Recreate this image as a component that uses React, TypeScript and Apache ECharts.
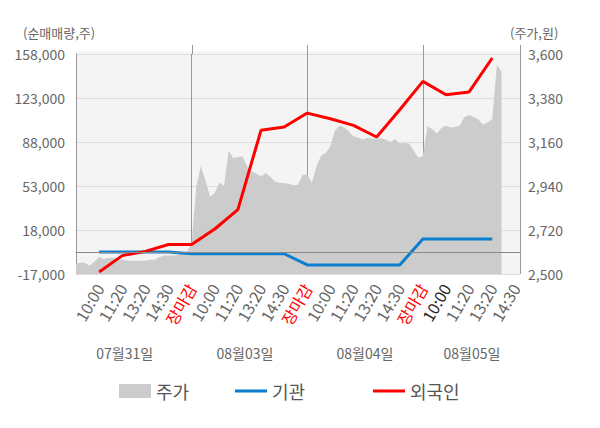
import React, { useEffect, useRef } from 'react';
import * as echarts from 'echarts';

const FONT = '"Noto Sans CJK KR", "Noto Sans", sans-serif';

const DATES = ['07월31일', '08월03일', '08월04일', '08월05일'];
const TIME_LABELS = ['10:00', '11:20', '13:20', '14:30', '장마감'];
const SUBS_PER_DAY = 25;
const SUBS_PER_SLOT = 5;
const LAST_INDEX = 96;

const LEFT_MIN = -17000;
const LEFT_MAX = 158000;
const LEFT_STEP = 35000;
const RIGHT_MIN = 2500;
const RIGHT_MAX = 3600;
const RIGHT_STEP = 220;

// 주가 (price), one value per sub-slot
const PRICE = [
  2551, 2558, 2555, 2541, 2563, 2585, 2575, 2580, 2580, 2578,
  2571, 2568, 2566, 2566, 2566, 2566, 2571, 2571, 2585, 2591,
  2593, 2593, 2595, 2608, 2613, 2650, 2935, 3040, 2968, 2888,
  2905, 2958, 2941, 3116, 3080, 3085, 3088, 3038, 3013, 3001,
  2988, 3005, 2988, 2963, 2955, 2955, 2951, 2944, 2946, 2996,
  2996, 2958, 3038, 3092, 3105, 3140, 3218, 3242, 3233, 3213,
  3188, 3183, 3173, 3180, 3177, 3177, 3178, 3172, 3160, 3175,
  3153, 3155, 3152, 3117, 3082, 3090, 3240, 3225, 3202, 3230,
  3242, 3233, 3235, 3242, 3285, 3295, 3285, 3272, 3247, 3258,
  3275, 3545, 3513,
];

// 기관 (institution) per labelled slot
const INSTITUTION = [
  500, 500, 500, 500, -900,
  -900, -900, -900, -900, -9800,
  -9800, -9800, -9800, -9800, 10800,
  10800, 10800, 10800,
];

// 외국인 (foreigners) per labelled slot
const FOREIGN = [
  -15400, -2400, 1000, 6500, 6500,
  18800, 34200, 97300, 99900, 111000,
  106500, 101200, 92000, 113700, 136200,
  125600, 127800, 154800,
];

function timeLabelAt(i: number): string {
  if (i <= 0 || i % SUBS_PER_SLOT !== 0) return '';
  const sub = i % SUBS_PER_DAY;
  return sub === 0 ? TIME_LABELS[4] : TIME_LABELS[sub / SUBS_PER_SLOT - 1];
}

const CATEGORIES: string[] = [];
for (let i = 0; i <= LAST_INDEX; i++) {
  const sub = i % SUBS_PER_DAY;
  let day = Math.floor(i / SUBS_PER_DAY);
  if (sub === 0 && i > 0) day -= 1;
  const t = timeLabelAt(i);
  CATEGORIES.push(`${DATES[day]} ${t || '#' + sub}`);
}

function slotSeries(values: number[]): (number | null)[] {
  return CATEGORIES.map((_, i) =>
    i > 0 && i % SUBS_PER_SLOT === 0 && values[i / SUBS_PER_SLOT - 1] != null
      ? values[i / SUBS_PER_SLOT - 1]
      : null
  );
}

const priceData = CATEGORIES.map((_, i) => (i < PRICE.length ? PRICE[i] : null));

const fmt = (v: number) => v.toLocaleString('en-US');

const isDayEdge = (i: number) => i % SUBS_PER_DAY === 0 || i === LAST_INDEX;

const legendBase = {
  top: 377,
  itemWidth: 32,
  itemGap: 10,
  selectedMode: false,
  textStyle: { fontSize: 18, color: '#555', fontFamily: FONT },
};

export default function App() {
  const ref = useRef<HTMLDivElement>(null);

  useEffect(() => {
    const chart = echarts.init(ref.current!, undefined, { renderer: 'svg' });
    const option: any = {
      animation: false,
      backgroundColor: '#ffffff',
      textStyle: { fontFamily: FONT },
      grid: {
        left: 76,
        right: 80,
        top: 54,
        bottom: 154,
        show: true,
        backgroundColor: '#f4f4f4',
        borderWidth: 0,
      },
      legend: [
        { ...legendBase, data: [{ name: '주가', icon: 'rect' }], left: 114, itemHeight: 14 },
        { ...legendBase, data: [{ name: '기관', icon: 'rect' }], left: 230, itemHeight: 3 },
        { ...legendBase, data: [{ name: '외국인', icon: 'rect' }], left: 368, itemHeight: 3 },
      ],
      xAxis: {
        type: 'category',
        data: CATEGORIES,
        boundaryGap: false,
        axisLine: { lineStyle: { color: '#999', width: 1 } },
        axisTick: {
          show: true,
          length: 4,
          interval: (i: number) => isDayEdge(i),
          lineStyle: { color: '#999' },
        },
        splitLine: {
          show: true,
          interval: (i: number) => i > 0 && isDayEdge(i),
          lineStyle: { color: '#999', width: 1 },
        },
        axisLabel: {
          interval: (i: number) => timeLabelAt(i) !== '',
          formatter: (_v: string, i: number) => timeLabelAt(i),
          rotate: 60,
          margin: 11,
          fontSize: 16,
          fontFamily: FONT,
          color: (v: string) =>
            v.indexOf('장마감') >= 0 ? '#ff0000' : v === `${DATES[3]} ${TIME_LABELS[0]}` ? '#222' : '#666',
        },
      },
      yAxis: [
        {
          type: 'value',
          min: LEFT_MIN,
          max: LEFT_MAX,
          interval: LEFT_STEP,
          axisLine: { show: true, lineStyle: { color: '#999' } },
          axisTick: { show: false },
          splitLine: { show: true, lineStyle: { color: '#dddddd' } },
          axisLabel: { formatter: fmt, fontSize: 14, color: '#666', margin: 11, fontFamily: FONT },
        },
        {
          type: 'value',
          min: RIGHT_MIN,
          max: RIGHT_MAX,
          interval: RIGHT_STEP,
          axisLine: { show: false },
          axisTick: { show: false },
          splitLine: { show: false },
          axisLabel: { formatter: fmt, fontSize: 14, color: '#666', margin: 8, fontFamily: FONT },
        },
      ],
      series: [
        {
          name: '주가',
          type: 'line',
          yAxisIndex: 1,
          data: priceData,
          symbol: 'none',
          z: 1,
          lineStyle: { width: 0, color: '#cccccc' },
          itemStyle: { color: '#cccccc' },
          areaStyle: { color: '#cccccc', opacity: 1 },
        },
        {
          name: 'zero',
          type: 'line',
          yAxisIndex: 0,
          data: [],
          z: 1.5,
          markLine: {
            silent: true,
            symbol: 'none',
            label: { show: false },
            lineStyle: { color: '#888', width: 1, type: 'solid' },
            data: [{ yAxis: 0 }],
          },
        },
        {
          name: '기관',
          type: 'line',
          yAxisIndex: 0,
          data: slotSeries(INSTITUTION),
          connectNulls: true,
          symbol: 'none',
          z: 3,
          lineStyle: { width: 3, color: '#0a7fcf' },
          itemStyle: { color: '#0a7fcf' },
        },
        {
          name: '외국인',
          type: 'line',
          yAxisIndex: 0,
          data: slotSeries(FOREIGN),
          connectNulls: true,
          symbol: 'none',
          z: 4,
          lineStyle: { width: 3, color: '#ff0000' },
          itemStyle: { color: '#ff0000' },
        },
      ],
    };
    chart.setOption(option);

    const topY = chart.convertToPixel({ yAxisIndex: 0 }, LEFT_MAX) as number;
    const leftX = chart.convertToPixel({ xAxisIndex: 0 }, 0) as number;
    const rightX = chart.convertToPixel({ xAxisIndex: 0 }, LAST_INDEX) as number;
    const edges = [25, 50, 75, LAST_INDEX].map((i) => chart.convertToPixel({ xAxisIndex: 0 }, i) as number);
    const dateCenters = [124.7, 245, 365, 472];

    const graphics: any[] = [
      {
        id: 'bgTop',
        type: 'rect',
        z: -1,
        shape: { x: leftX, y: topY - 2.5, width: rightX - leftX, height: 2.5 },
        style: { fill: '#f4f4f4' },
      },
      ...edges.map((x, k) => ({
        id: 'edge' + k,
        type: 'line',
        z: 1,
        shape: { x1: Math.round(x) + 0.5, y1: topY - 9, x2: Math.round(x) + 0.5, y2: topY },
        style: { stroke: '#999', lineWidth: 1 },
      })),
      {
        id: 'nameL',
        type: 'text',
        left: 23,
        top: 26,
        style: { text: '(순매매량,주)', fill: '#666', font: `13px ${FONT}` },
      },
      {
        id: 'nameR',
        type: 'text',
        left: 510,
        top: 26,
        style: { text: '(주가,원)', fill: '#666', font: `13px ${FONT}` },
      },
      ...DATES.map((d, k) => ({
        id: 'date' + k,
        type: 'text',
        x: dateCenters[k],
        y: 353,
        style: {
          text: d,
          fill: '#666',
          font: `14px ${FONT}`,
          align: 'center',
          verticalAlign: 'middle',
        },
      })),
    ];
    chart.setOption({ graphic: { elements: graphics } });

    return () => chart.dispose();
  }, []);

  return (
    <div
      ref={ref}
      style={{ position: 'fixed', left: 0, top: 0, width: 600, height: 428, background: '#fff' }}
    />
  );
}
